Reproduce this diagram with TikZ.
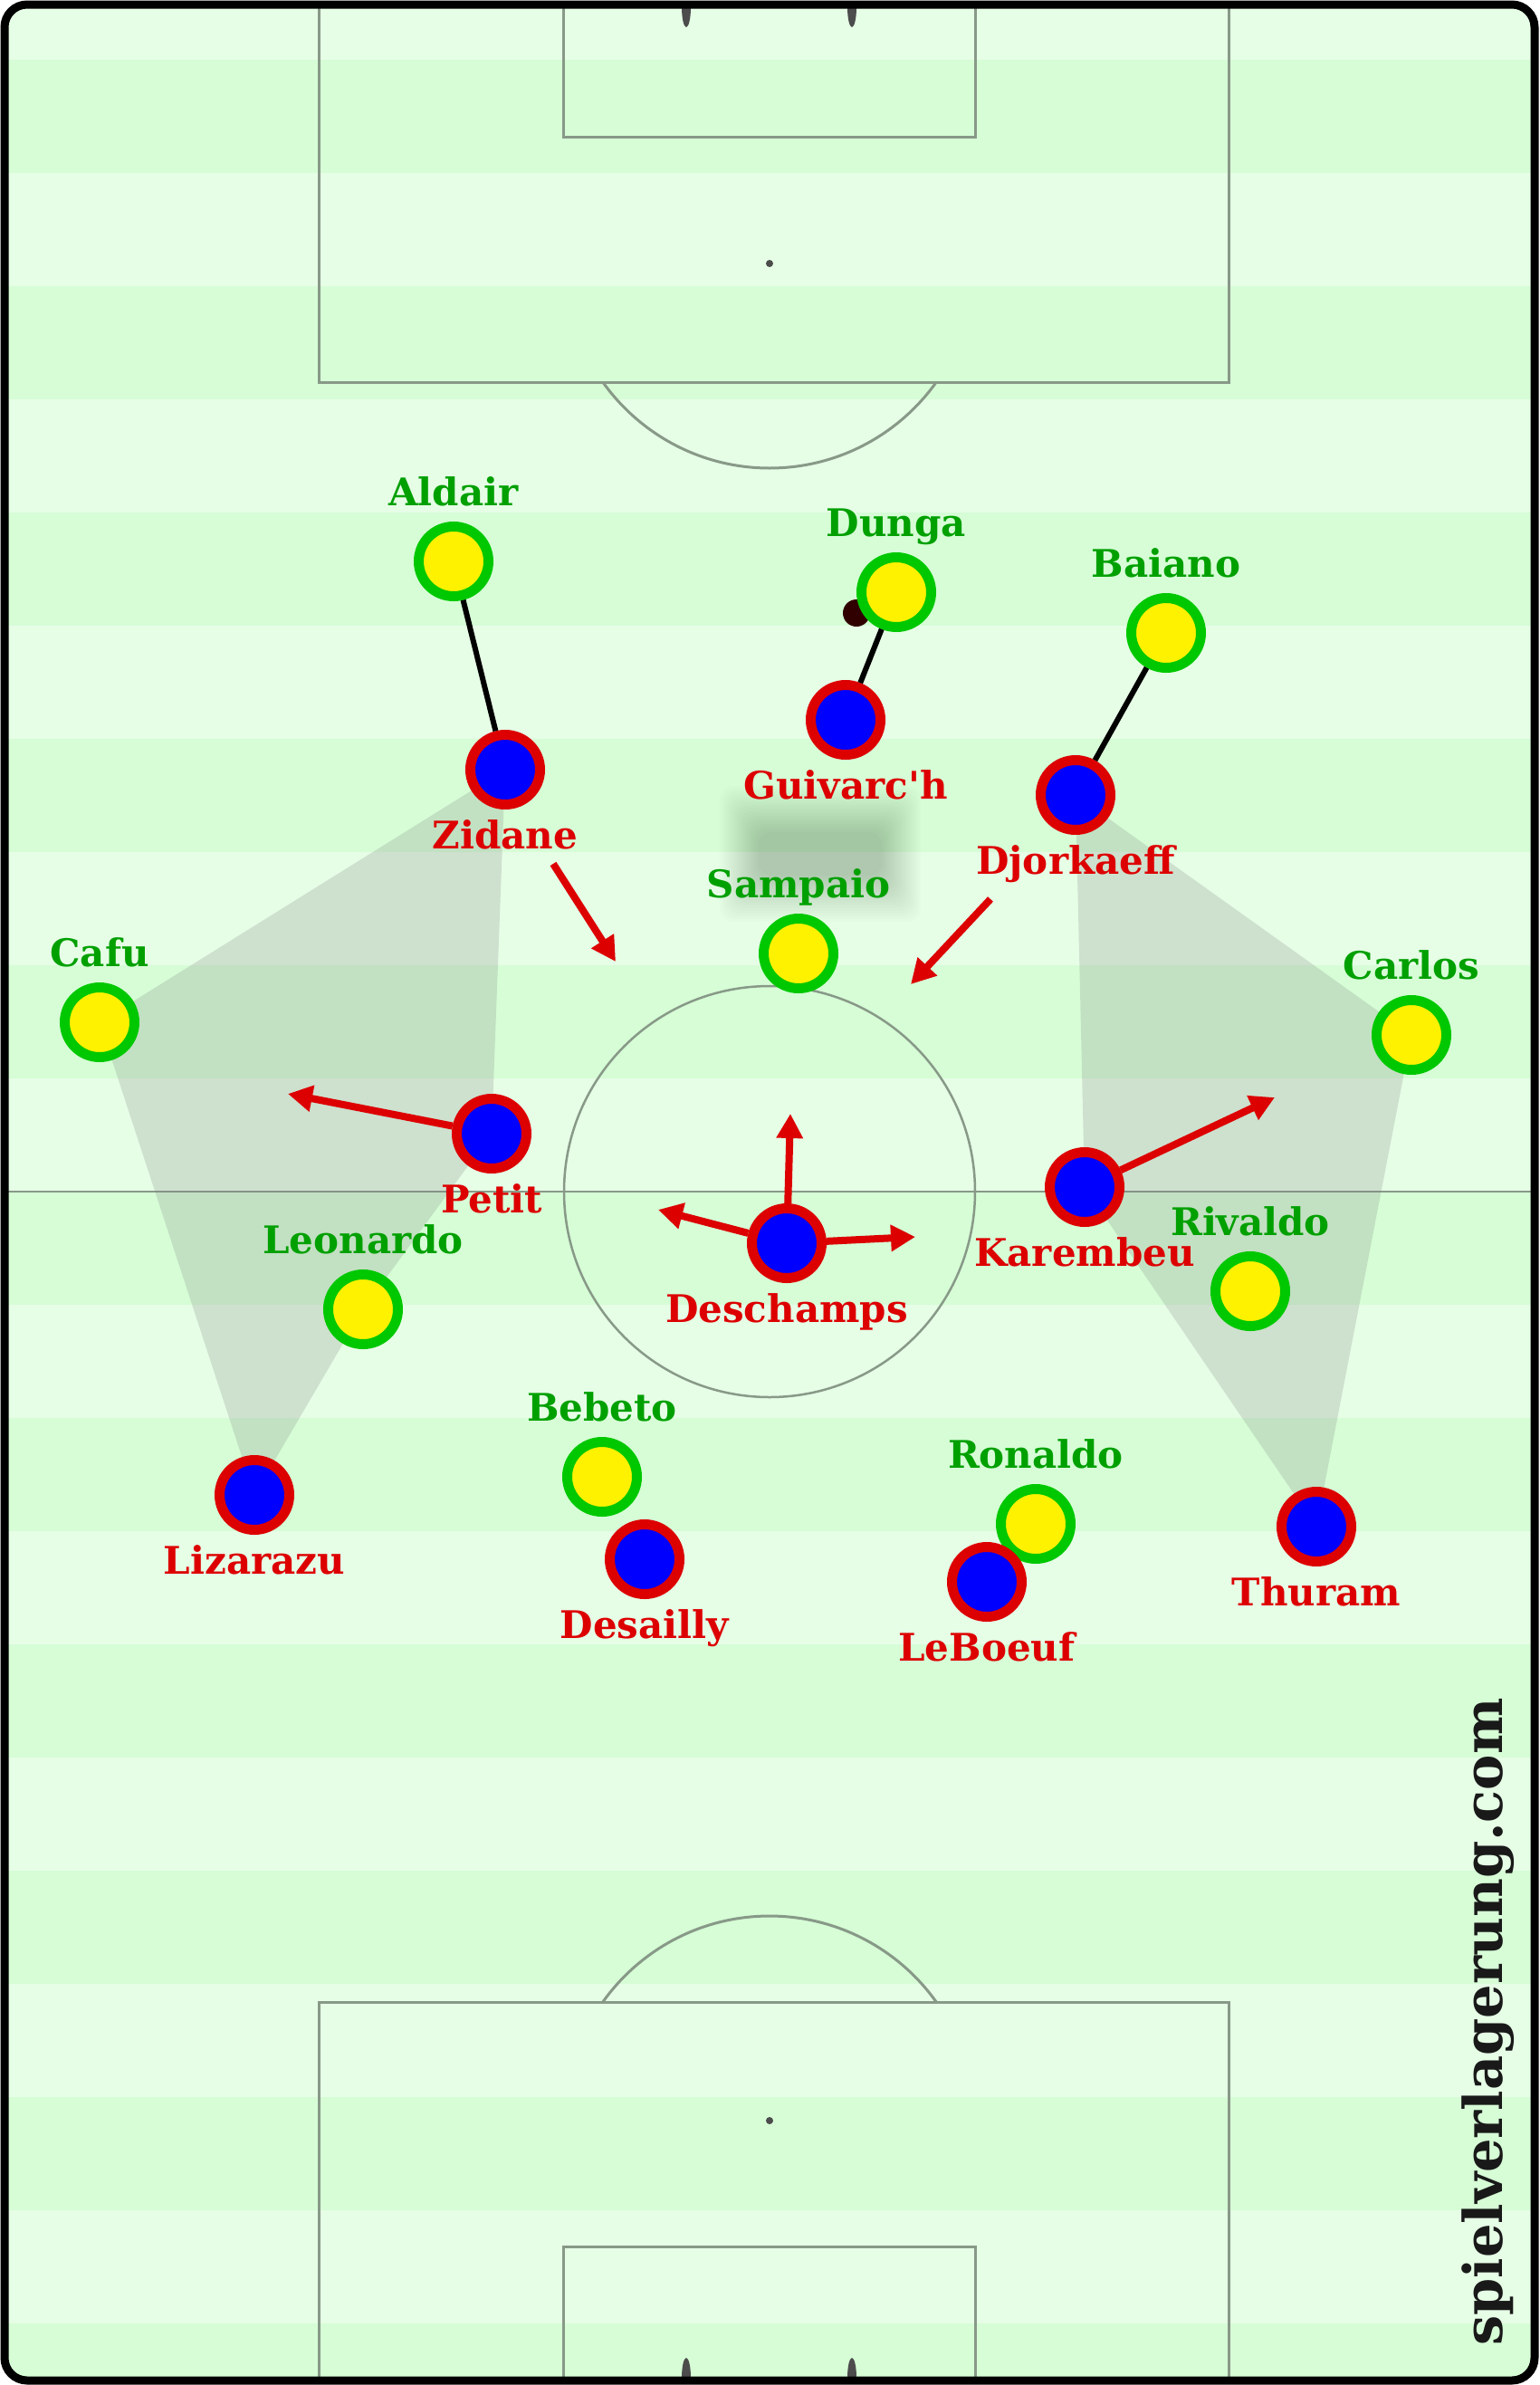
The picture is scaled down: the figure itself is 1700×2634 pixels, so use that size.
\documentclass[tikz,border=0pt]{standalone}
\usepackage{fontspec}
\setmainfont{DejaVu Serif}
\usetikzlibrary{positioning,arrows.meta,backgrounds}

\definecolor{pitchlight}{RGB}{230,253,230}
\definecolor{pitchdark}{RGB}{214,253,214}
\definecolor{pitchline}{RGB}{136,153,136}
\definecolor{frared}{RGB}{221,0,0}
\definecolor{braring}{RGB}{0,200,0}
\definecolor{bratext}{RGB}{0,160,0}
\definecolor{ballbrown}{RGB}{48,0,0}
\definecolor{zonegray}{RGB}{128,128,128}

\tikzset{
  bra/.style={circle, draw=braring, fill=yellow, line width=11pt, minimum size=77pt, inner sep=0pt},
  fra/.style={circle, draw=frared, fill=blue, line width=11pt, minimum size=77pt, inner sep=0pt},
  ball/.style={circle, fill=ballbrown, minimum size=30pt, inner sep=0pt},
  plname/.style={font=\bfseries\fontsize{42}{48}\selectfont, inner sep=0pt, text height=32pt, text depth=10pt},
  braname/.style={plname, text=bratext},
  franame/.style={plname, text=frared},
  manline/.style={line width=6pt, black},
  run/.style={draw=frared, line width=8pt, -{Triangle[length=27pt,width=28pt]}},
  zone/.style={fill=zonegray, fill opacity=0.23},
  pitch/.style={draw=pitchline, line width=3pt},
}

\begin{document}
\begin{tikzpicture}[x=1pt,y=-1pt]
\useasboundingbox (0,0) rectangle (1700,2634);

% Brazil
\node[bra] (aldair) at (501,620) {};
\node[ball] (ballspot) at (946,677) {};
\node[bra] (dunga) at (990,654) {};
\node[bra] (baiano) at (1288,699) {};
\node[bra] (sampaio) at (882,1053) {};
\node[bra] (cafu) at (110,1129) {};
\node[bra] (carlos) at (1559,1143) {};
\node[bra] (rivaldo) at (1381,1426) {};
\node[bra] (leonardo) at (401,1446) {};
\node[bra] (bebeto) at (665,1631) {};
\node[bra] (ronaldo) at (1144,1683) {};
% France
\node[fra] (zidane) at (558,850) {};
\node[fra] (guivarch) at (934,795) {};
\node[fra] (djorkaeff) at (1188,878) {};
\node[fra] (petit) at (543,1252) {};
\node[fra] (deschamps) at (869,1373) {};
\node[fra] (karembeu) at (1198,1311) {};
\node[fra] (lizarazu) at (281,1651) {};
\node[fra] (desailly) at (712,1722) {};
\node[fra] (leboeuf) at (1090,1747) {};
\node[fra] (thuram) at (1454,1686) {};

% Names
\node[braname, above=7pt of aldair] (aldairname) {Aldair};
\node[braname, above=7pt of dunga] (dunganame) {Dunga};
\node[braname, above=7pt of baiano] (baianoname) {Baiano};
\node[braname, above=7pt of sampaio] (sampaioname) {Sampaio};
\node[braname, above=7pt of cafu] (cafuname) {Cafu};
\node[braname, above=7pt of carlos] (carlosname) {Carlos};
\node[braname, above=7pt of rivaldo] (rivaldoname) {Rivaldo};
\node[braname, above=7pt of leonardo] (leonardoname) {Leonardo};
\node[braname, above=7pt of bebeto] (bebetoname) {Bebeto};
\node[braname, above=7pt of ronaldo] (ronaldoname) {Ronaldo};
\node[franame, below=11pt of zidane] (zidanename) {Zidane};
\node[franame, below=11pt of guivarch] (guivarchname) {Guivarc\textquotesingle h};
\node[franame, below=11pt of djorkaeff] (djorkaeffname) {Djorkaeff};
\node[franame, below=11pt of petit] (petitname) {Petit};
\node[franame, below=11pt of deschamps] (deschampsname) {Deschamps};
\node[franame, below=11pt of karembeu] (karembeuname) {Karembeu};
\node[franame, below=11pt of lizarazu] (lizarazuname) {Lizarazu};
\node[franame, below=11pt of desailly] (desaillyname) {Desailly};
\node[franame, below=11pt of leboeuf] (leboeufname) {LeBoeuf};
\node[franame, below=11pt of thuram] (thuramname) {Thuram};

\node[rotate=90, font=\bfseries\fontsize{59}{62}\selectfont, text=black!90] (brand) at (1644,2233) {spielverlagerung.com};

% Marking
\draw[manline] (aldair) -- (zidane);
\draw[manline] (dunga) -- (guivarch);
\draw[manline] (baiano) -- (djorkaeff);

% Runs
\coordinate (zidfrom) at (611,954);
\coordinate (zidto) at (680,1062);
\coordinate (djofrom) at (1094,993);
\coordinate (djoto) at (1006,1087);
\coordinate (petto) at (318,1208);
\coordinate (karto) at (1408,1212);
\coordinate (desup) at (873,1230);
\coordinate (desleft) at (727,1336);
\coordinate (desright) at (1011,1366);
\draw[run] (zidfrom) -- (zidto);
\draw[run] (djofrom) -- (djoto);
\draw[run] (petit) -- (petto);
\draw[run] (karembeu) -- (karto);
\draw[run] (deschamps) -- (desup);
\draw[run] (deschamps) -- (desleft);
\draw[run] (deschamps) -- (desright);

\begin{scope}[on background layer]
  % Pitch
  \begin{scope}
    \clip[rounded corners=25pt] (5,5) rectangle (1695,2629);
    \fill[pitchlight] (0,0) rectangle (1700,2634);
    \foreach \k in {0,...,10}
      \fill[pitchdark] (0,{66+250*\k}) rectangle (1700,{191+250*\k});
    \draw[pitch] (352,0) -- (352,422) -- (1357,422) -- (1357,0);
    \draw[pitch] (622,0) -- (622,151) -- (1077,151) -- (1077,0);
    \draw[pitch] (352,2634) -- (352,2211) -- (1357,2211) -- (1357,2634);
    \draw[pitch] (622,2634) -- (622,2481) -- (1077,2481) -- (1077,2634);
    \draw[pitch, line width=2pt] (0,1316) -- (1700,1316);
    \draw[pitch, line width=2.5pt] (850,1316) circle (227);
    \begin{scope}
      \clip (0,422) rectangle (1700,800);
      \draw[pitch] (850,291) circle (226);
    \end{scope}
    \begin{scope}
      \clip (0,1800) rectangle (1700,2211);
      \draw[pitch] (850,2342) circle (226);
    \end{scope}
    \fill[black!70] (850,291) circle (4);
    \fill[black!70] (850,2342) circle (4);
    \foreach \gx in {758,941} {
      \fill[black!70] (\gx,8) ellipse [x radius=5, y radius=22];
      \fill[black!70] (\gx,2626) ellipse [x radius=5, y radius=22];
    }
  \end{scope}
  \draw[line width=9pt, rounded corners=25pt] (5,5) rectangle (1695,2629);
  % Shadow
  \foreach \k in {0,...,17}
    \fill[black, opacity=0.011, rounded corners=15pt] ({795+2.5*\k},{868+3*\k}) rectangle ({1017-2.5*\k},{1018-3*\k});
  % Zones
  \fill[zone] (zidane.center) -- (cafu.center) -- (lizarazu.center) -- (leonardo.center) -- (petit.center) -- cycle;
  \fill[zone] (djorkaeff.center) -- (carlos.center) -- (thuram.center) -- (karembeu.center) -- cycle;
\end{scope}
\end{tikzpicture}
\end{document}
